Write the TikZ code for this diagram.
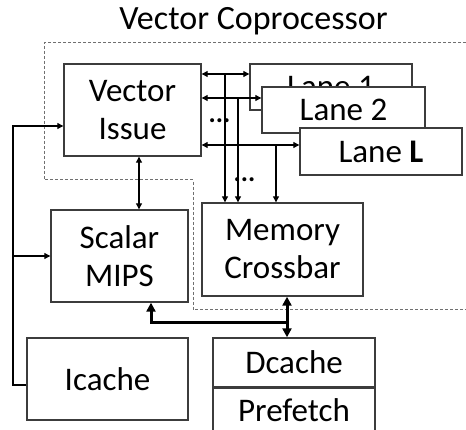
\documentclass[tikz,border=0pt]{standalone}
\usepackage{fontspec}
\setmainfont{Carlito}
\usetikzlibrary{arrows.meta}
\definecolor{edge}{HTML}{3C3C3C}
\definecolor{dashgray}{HTML}{707070}
\tikzset{
  box/.style={draw=edge, line width=1.4, fill=white, align=center, inner sep=0,
    font=\fontsize{33}{38}\selectfont},
  tip/.tip={Triangle[length=6,width=6]},
  link/.style={draw=black, line width=1.1},
  bus/.style={draw=black, line width=3},
  bigtip/.tip={Triangle[length=9,width=9]},
  boundary/.style={draw=dashgray, line width=1, dash pattern=on 3pt off 2pt},
  dots/.style={font=\fontsize{27}{27}\selectfont\bfseries, inner sep=0, anchor=base}
}
\begin{document}
\begin{tikzpicture}[x=1pt,y=-1pt]
  \clip (0,0) rectangle (466,430);
  \fill[white] (0,0) rectangle (466,430);

  % title and coprocessor boundary
  \node[font=\fontsize{34}{38}\selectfont, anchor=base, inner sep=0] (title) at (253.5,30) {Vector Coprocessor};
  \draw[boundary] (466,43) -- (44,43) -- (44,180) -- (193,180) -- (193,310) -- (466,310);

  % blocks
  \node[box, minimum width=137, minimum height=92] (vi) at (132.5,110) {Vector\\Issue};
  \node[box, minimum width=162, minimum height=46] (l1) at (331,87) {Lane 1};
  \node[box, minimum width=163, minimum height=46] (l2) at (343.5,110) {Lane 2};
  \node[box, minimum width=162, minimum height=47] (lL) at (381,151.5) {Lane \textbf{L}};
  \node[box, minimum width=161, minimum height=93] (mc) at (282.5,249.5) {Memory\\Crossbar};
  \node[box, minimum width=137, minimum height=92] (sm) at (119.5,256) {Scalar\\MIPS};
  \node[box, minimum width=161, minimum height=82] (ic) at (107.5,379) {Icache};
  \node[box, minimum width=162, minimum height=49] (dc) at (294,362.5) {Dcache};
  \node[box, minimum width=162, minimum height=60, anchor=north] (pf) at (dc.south) {};
  \node[font=\fontsize{33}{38}\selectfont, inner sep=0] (pft) at (294,410) {Prefetch};

  % issue <-> lanes
  \coordinate (r1) at (0,74);
  \coordinate (r2) at (0,98);
  \coordinate (rL) at (0,145);
  \draw[link, tip-tip] (vi.east |- r1) -- (l1.west |- r1);
  \draw[link, tip-tip] (vi.east |- r2) -- (l2.west |- r2);
  \draw[link, tip-tip] (vi.east |- rL) -- (lL.west |- rL);
  \node[dots] (d1) at (219.5,123) {...};

  % lanes -> memory crossbar
  \coordinate (j1) at (225,74);
  \coordinate (j2) at (238,98);
  \coordinate (jL) at (276,145);
  \draw[link, -tip] (j1) -- (mc.north -| j1);
  \draw[link, -tip] (j2) -- (mc.north -| j2);
  \draw[link, -tip] (jL) -- (mc.north -| jL);
  \node[dots] (d2) at (244.5,182) {...};

  % issue <-> scalar
  \draw[link, tip-tip] (vi.south -| 139,0) -- (sm.north -| 139,0);

  % instruction fetch path
  \coordinate (fb) at (13,0);
  \coordinate (icout) at ([yshift=-6pt]ic.west);
  \coordinate (viin) at ([yshift=-16pt]vi.west);
  \draw[link, -tip] (icout) -- (fb |- icout) -- (fb |- viin) -- (viin);
  \draw[link, -tip] (fb |- sm.west) -- (sm.west);

  % data bus
  \coordinate (bx) at (287,0);
  \coordinate (by) at (0,323);
  \coordinate (sx) at (151,0);
  \draw[bus, bigtip-bigtip] (mc.south -| bx) -- (dc.north -| bx);
  \draw[bus, -bigtip] (bx |- by) -- (sx |- by) -- (sm.south -| sx);
\end{tikzpicture}
\end{document}
